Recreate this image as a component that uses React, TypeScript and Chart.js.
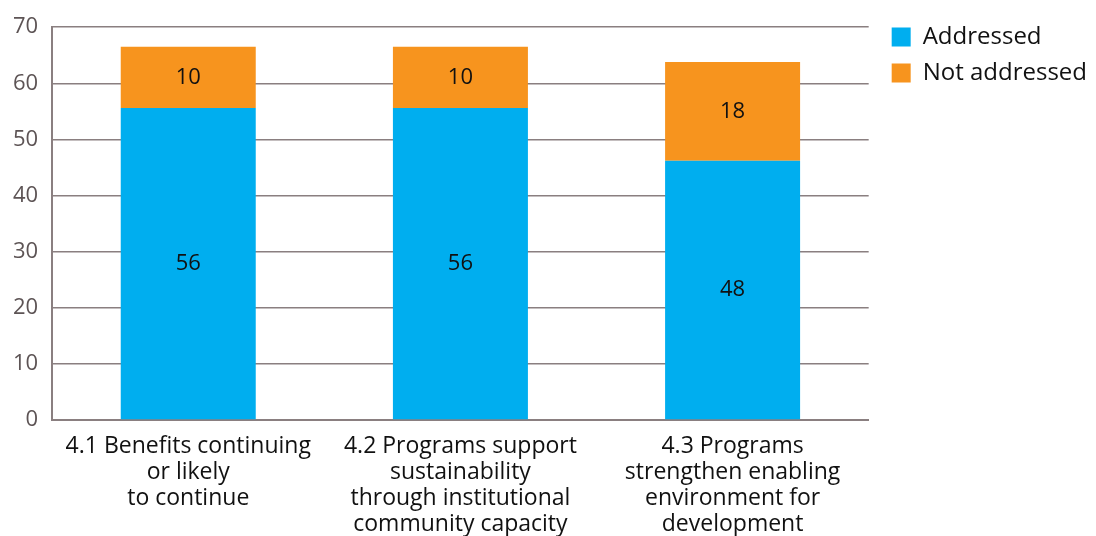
import React, { useEffect, useRef } from "react";
import { Chart, registerables } from "chart.js";

Chart.register(...registerables);

const categories: string[][] = [
  ["4.1 Benefits continuing", "or likely", "to continue"],
  ["4.2 Programs support", "sustainability", "through institutional", "community capacity"],
  ["4.3 Programs", "strengthen enabling", "environment for", "development"],
];
const addressedValues = [55.6, 55.6, 46.2];
const notAddressedValues = [10.9, 10.9, 17.6];
const addressedLabels = ["56", "56", "48"];
const notAddressedLabels = ["10", "10", "18"];
const seriesNames = ["Addressed", "Not addressed"];

const FONT = "'Open Sans', 'Liberation Sans', sans-serif";

const barLabelPlugin = {
  id: "barLabels",
  afterDatasetsDraw(chart: any) {
    const ctx = chart.ctx;
    const texts = [addressedLabels, notAddressedLabels];
    ctx.save();
    ctx.font = `22px ${FONT}`;
    ctx.fillStyle = "#111";
    ctx.textAlign = "center";
    ctx.textBaseline = "middle";
    chart.data.datasets.forEach((_ds: any, di: number) => {
      const meta = chart.getDatasetMeta(di);
      meta.data.forEach((el: any, i: number) => {
        const p = el.getProps(["x", "y", "base"], true);
        ctx.fillText(texts[di][i], p.x, (p.y + p.base) / 2);
      });
    });
    ctx.restore();
  },
};

// nudge the legend a little to the right of the plot area
const legendShiftPlugin = {
  id: "legendShift",
  afterLayout(chart: any) {
    const lg = chart.legend;
    if (lg) {
      lg.left += 11;
      lg.right += 11;
    }
  },
};

export default function App() {
  const ref = useRef<HTMLCanvasElement>(null);
  useEffect(() => {
    document.body.style.margin = "0";
    const chart = new Chart(ref.current!, {
      type: "bar",
      data: {
        labels: categories,
        datasets: [
          { label: seriesNames[0], data: addressedValues, backgroundColor: "#00AEEF" },
          { label: seriesNames[1], data: notAddressedValues, backgroundColor: "#F7941E" },
        ],
      },
      plugins: [barLabelPlugin, legendShiftPlugin],
      options: {
        animation: false,
        responsive: false,
        maintainAspectRatio: false,
        layout: { padding: { top: 13, left: -1, right: 10, bottom: -6 } },
        datasets: { bar: { categoryPercentage: 1, barPercentage: 0.496 } },
        plugins: {
          tooltip: { enabled: false },
          legend: {
            position: "right",
            align: "start",
            labels: {
              boxWidth: 19,
              boxHeight: 19,
              padding: 12,
              color: "#111",
              font: { family: FONT, size: 24 },
            },
          },
        },
        scales: {
          x: {
            stacked: true,
            grid: { display: false },
            border: { color: "#8a7f80", width: 2 },
            ticks: {
              color: "#111",
              padding: 5,
              maxRotation: 0,
              autoSkip: false,
              font: { family: FONT, size: 23, lineHeight: 1.13 },
            },
          },
          y: {
            stacked: true,
            min: 0,
            max: 70,
            ticks: {
              stepSize: 10,
              color: "#5d5455",
              padding: 14,
              font: { family: FONT, size: 22 },
            },
            grid: { color: "#8a7f80", lineWidth: 1.5, drawTicks: false },
            border: { color: "#8a7f80", width: 2 },
          },
        },
      },
    });
    return () => chart.destroy();
  }, []);
  return (
    <div style={{ width: 1096, height: 536 }}>
      <canvas ref={ref} width={1096} height={536} />
    </div>
  );
}
